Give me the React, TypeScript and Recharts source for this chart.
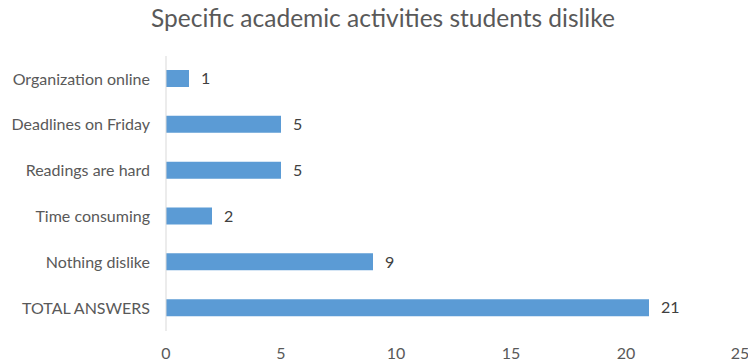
import { BarChart, Bar, XAxis, YAxis, LabelList } from 'recharts';

const categories = [
    'Organization online',
    'Deadlines on Friday',
    'Readings are hard',
    'Time consuming',
    'Nothing dislike',
    'TOTAL ANSWERS',
];
const answers = [1, 5, 5, 2, 9, 21];
const xTicks = [0, 5, 10, 15, 20, 25];

const data = categories.map((name, i) => ({ name, value: answers[i] }));

const FONT = 'Lato, "Open Sans", sans-serif';
const TEXT = '#595959';

export default function App() {
    return (
        <div style={{ position: 'absolute', left: 0, top: 0, width: 748, height: 362, background: '#fff', fontFamily: FONT }}>
            {/* Title */}
            <div style={{ position: 'absolute', left: 0, top: 3, width: 766, textAlign: 'center', fontSize: 24.5, color: TEXT }}>
                Specific academic activities students dislike
            </div>
            <BarChart
                width={748}
                height={362}
                data={data}
                layout="vertical"
                margin={{ top: 56, right: 7, left: 0, bottom: 0 }}
                barCategoryGap={29}
            >
                <XAxis
                    type="number"
                    domain={[0, 25]}
                    ticks={xTicks}
                    axisLine={false}
                    tickLine={false}
                    height={31}
                    tickMargin={11}
                    tick={{ fontSize: 16, fill: TEXT, fontFamily: FONT }}
                />
                <YAxis
                    type="category"
                    dataKey="name"
                    width={166}
                    axisLine={{ stroke: '#D9D9D9' }}
                    tickLine={false}
                    tickSize={0}
                    tickMargin={16}
                    tick={{ fontSize: 16, fill: TEXT, fontFamily: FONT }}
                />
                <Bar dataKey="value" fill="#5B9BD5" barSize={17} isAnimationActive={false}>
                    <LabelList dataKey="value" position="right" offset={12} fill="#404040" fontSize={16} fontFamily={FONT} />
                </Bar>
            </BarChart>
        </div>
    );
}
